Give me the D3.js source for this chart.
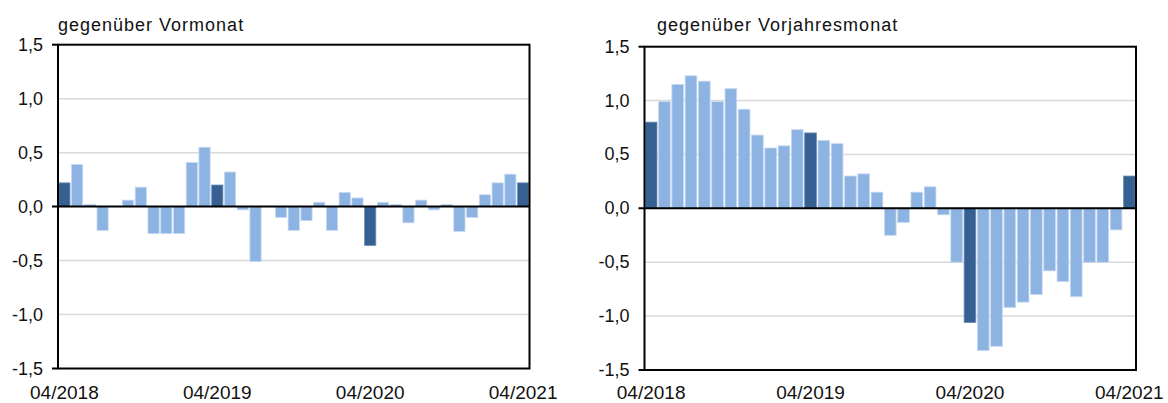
<!DOCTYPE html>
<html>
<head>
<meta charset="utf-8">
<script src="https://cdn.jsdelivr.net/npm/d3@7"></script>
<style>
  html, body { margin: 0; padding: 0; background: #fff; }
  svg { display: block; }
  text { font-family: "Liberation Sans", Arial, sans-serif; fill: #111; }
</style>
</head>
<body>
<svg id="chart" width="1168" height="403"></svg>
<script>
// ---- data ----
const months = [
  "04/2018","05/2018","06/2018","07/2018","08/2018","09/2018","10/2018","11/2018","12/2018",
  "01/2019","02/2019","03/2019","04/2019","05/2019","06/2019","07/2019","08/2019","09/2019",
  "10/2019","11/2019","12/2019","01/2020","02/2020","03/2020","04/2020","05/2020","06/2020",
  "07/2020","08/2020","09/2020","10/2020","11/2020","12/2020","01/2021","02/2021","03/2021","04/2021"
];
const vormonat = [0.22,0.39,0.02,-0.22,0,0.06,0.18,-0.25,-0.25,-0.25,0.41,0.55,0.20,0.32,-0.03,-0.51,0,-0.10,-0.22,-0.13,0.04,-0.22,0.13,0.08,-0.36,0.04,0.02,-0.15,0.06,-0.03,0.02,-0.23,-0.10,0.11,0.22,0.30,0.22];
const vorjahresmonat = [0.80,0.99,1.15,1.23,1.18,0.99,1.11,0.92,0.68,0.56,0.58,0.73,0.70,0.63,0.60,0.30,0.32,0.15,-0.25,-0.13,0.15,0.20,-0.06,-0.50,-1.06,-1.32,-1.28,-0.92,-0.87,-0.80,-0.58,-0.68,-0.82,-0.50,-0.50,-0.20,0.30];
const xTickLabels = ["04/2018","04/2019","04/2020","04/2021"];
const yTicks = [-1.5,-1.0,-0.5,0,0.5,1.0,1.5];
const titles = ["gegenüber Vormonat","gegenüber Vorjahresmonat"];

// ---- styling / layout ----
const lightColor = "#8DB3E2";
const darkColor = "#376092";
const loc = d3.formatLocale({decimal: ",", thousands: ".", grouping: [3], currency: ["", "€"], minus: "-"});
const fmt = loc.format(".1f");

const svg = d3.select("#chart");

const panels = [
  {values: vormonat, title: titles[0], left: 58, right: 529.5, top: 44.7, bottom: 368.5, titleX: 58},
  {values: vorjahresmonat, title: titles[1], left: 644.5, right: 1136, top: 46.7, bottom: 370, titleX: 657}
];

panels.forEach(p => {
  const g = svg.append("g");
  const x = d3.scaleBand().domain(months).range([p.left, p.right]).paddingInner(0.12).paddingOuter(0.06);
  const y = d3.scaleLinear().domain([-1.5, 1.5]).range([p.bottom, p.top]);

  // gridlines
  g.append("g").selectAll("line").data(yTicks.filter(t => t !== 0 && Math.abs(t) !== 1.5)).join("line")
    .attr("x1", p.left).attr("x2", p.right)
    .attr("y1", d => y(d)).attr("y2", d => y(d))
    .attr("stroke", "#d9d9d9").attr("stroke-width", 1.5);

  // bars
  g.append("g").selectAll("rect").data(p.values).join("rect")
    .attr("x", (d, i) => x(months[i]))
    .attr("width", x.bandwidth())
    .attr("y", d => y(Math.max(0, d)))
    .attr("height", d => Math.abs(y(d) - y(0)))
    .attr("fill", (d, i) => months[i].startsWith("04/") ? darkColor : lightColor)
    .attr("stroke", (d, i) => months[i].startsWith("04/") ? "#6f8fb8" : "#c6d9f1")
    .attr("stroke-width", 0.8);

  // y axis labels
  g.append("g").selectAll("text").data(yTicks).join("text")
    .attr("x", p.left - 15).attr("y", d => y(d))
    .attr("text-anchor", "end").attr("dominant-baseline", "central")
    .style("font-size", "18px")
    .text(d => fmt(d));

  // zero line
  g.append("line")
    .attr("x1", p.left - 6).attr("x2", p.right)
    .attr("y1", y(0)).attr("y2", y(0))
    .attr("stroke", "#000").attr("stroke-width", 2);

  // frame
  g.append("rect")
    .attr("x", p.left).attr("y", p.top)
    .attr("width", p.right - p.left).attr("height", p.bottom - p.top)
    .attr("fill", "none").attr("stroke", "#000").attr("stroke-width", 2);
  [1.5, -1.5].forEach(t => {
    g.append("line").attr("x1", p.left - 6).attr("x2", p.left)
      .attr("y1", y(t)).attr("y2", y(t)).attr("stroke", "#000").attr("stroke-width", 2);
  });

  // x labels
  g.append("g").selectAll("text").data(xTickLabels).join("text")
    .attr("x", d => x(d) + x.bandwidth() / 2)
    .attr("y", 399)
    .attr("text-anchor", "middle")
    .style("font-size", "19px")
    .text(d => d);

  // title
  g.append("text")
    .attr("x", p.titleX).attr("y", 31)
    .style("font-size", "18px")
    .style("letter-spacing", "1px")
    .text(p.title);
});
</script>
</body>
</html>
